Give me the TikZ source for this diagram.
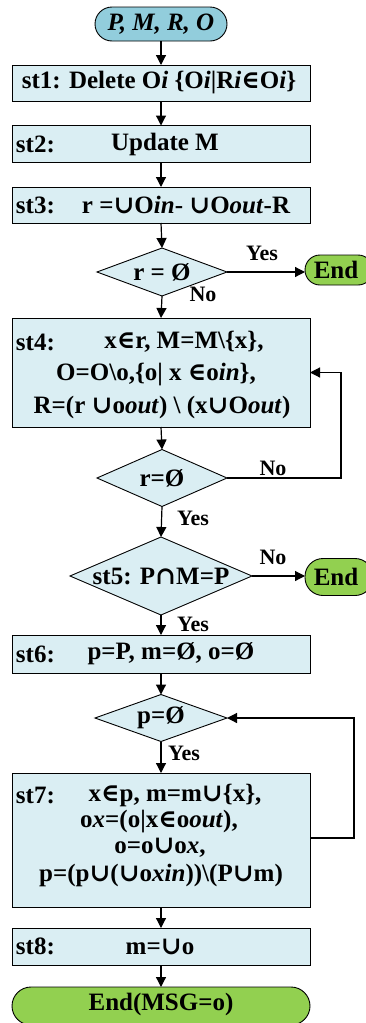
\documentclass[tikz,border=0pt]{standalone}
\usepackage{fontspec}
\setmainfont{Liberation Serif}
\newfontfamily\symf{DejaVu Serif}
\usetikzlibrary{shapes.geometric,arrows.meta}
\definecolor{boxblue}{HTML}{DAEEF3}
\definecolor{startblue}{HTML}{92CDDC}
\definecolor{endgreen}{HTML}{92D050}
\newcommand\myin{{\symf\bfseries ∈}}
\newcommand\mycup{{\symf\bfseries ∪}}
\newcommand\mycap{{\symf\bfseries ∩}}
\begin{document}
\begin{tikzpicture}[x=1pt,y=-1pt,
  every node/.style={inner sep=0pt, outer sep=0pt},
  txt/.style={font=\fontsize{25}{30}\selectfont\bfseries},
  lab/.style={font=\fontsize{22}{26}\selectfont\bfseries},
  stlab/.style={font=\fontsize{25}{30}\selectfont\bfseries, anchor=west},
  proc/.style={draw, fill=boxblue, line width=0.9pt, minimum width=298pt},
  dec/.style={diamond, draw, fill=boxblue, line width=0.9pt},
  term/.style={draw, fill=endgreen, line width=0.9pt},
  arr/.style={line width=1.2pt, -{Triangle[length=10pt,width=10pt]}}
]
\useasboundingbox (0,0) rectangle (366,1023);
\clip (0,0) rectangle (366,1023);

% start
\node[draw, fill=startblue, line width=0.9pt, rounded corners=17pt, minimum width=132pt, minimum height=34pt] (start) at (161,24) {};
\node[txt] (startt) at (161,24) {\itshape P, M, R, O};

% st1
\node[proc, minimum height=36pt] (st1) at (161,83) {};
\node[txt] (st1t) at (159,83) {st1: Delete O\textit{i} \{O\textit{i}|R\textit{i}\myin O\textit{i}\}};

% st2
\node[proc, minimum height=37pt] (st2) at (161,144) {};
\node[stlab] (st2l) at (16,144) {st2:};
\node[txt] (st2t) at (165,144) {Update M};

% st3
\node[proc, minimum height=36pt] (st3) at (161,205) {};
\node[stlab] (st3l) at (16,205) {st3:};
\node[txt] (st3t) at (186,205) {r =\mycup O\textit{in}- \mycup O\textit{out}-R};

% d1
\node[dec, minimum width=130pt, minimum height=48pt] (d1) at (162,272) {};
\node[txt] (d1t) at (162,272) {r = Ø};
\node[term, rounded corners=15pt, minimum width=68pt, minimum height=30pt] (end1) at (339,270) {};
\node[txt] (end1t) at (336,270) {End};
\node[lab] (yes1) at (262,253) {Yes};
\node[lab] (no1) at (203,294) {No};

% st4
\node[proc, minimum height=109pt] (st4) at (161,372.5) {};
\node[stlab] (st4l) at (16,342) {st4:};
\node[txt] (st4a) at (184,342) {x\myin r, M=M\textbackslash\{x\},};
\node[txt] (st4b) at (156,375) {O=O\textbackslash o,\{o| x \myin o\textit{in}\},};
\node[txt] (st4c) at (162,407) {R=(r \mycup o\textit{out}) \textbackslash{} (x\mycup O\textit{out})};

% d2
\node[dec, minimum width=130pt, minimum height=57pt] (d2) at (162,478) {};
\node[txt] (d2t) at (162,478) {r=Ø};
\node[lab] (no2) at (273,468) {No};
\node[lab] (yes2) at (193,518) {Yes};

% d3
\node[dec, minimum width=182pt, minimum height=78pt] (d3) at (161,576) {};
\node[txt] (d3t) at (161,576) {st5: P\mycap M=P};
\node[term, rounded corners=18pt, minimum width=68pt, minimum height=37pt] (end2) at (339,577) {};
\node[txt] (end2t) at (336,577) {End};
\node[lab] (no3) at (273,557) {No};
\node[lab] (yes3) at (193,624) {Yes};

% st6
\node[proc, minimum height=38pt] (st6) at (161,654) {};
\node[stlab] (st6l) at (16,654) {st6:};
\node[txt] (st6t) at (171,654) {p=P, m=Ø, o=Ø};

% d4
\node[dec, minimum width=132pt, minimum height=47pt] (d4) at (161,718) {};
\node[txt] (d4t) at (161,718) {p=Ø};
\node[lab] (yes4) at (184,753) {Yes};

% st7
\node[proc, minimum height=134pt] (st7) at (161,840) {};
\node[stlab] (st7l) at (16,795) {st7:};
\node[txt] (st7a) at (175,795) {x\myin p, m=m\mycup\{x\},};
\node[txt] (st7b) at (159,822) {o\textit{x}=(o|x\myin o\textit{out}),};
\node[txt] (st7c) at (160,848) {o=o\mycup o\textit{x},};
\node[txt] (st7d) at (161,875) {p=(p\mycup(\mycup o\textit{xin}))\textbackslash(P\mycup m)};

% st8
\node[proc, minimum height=37pt] (st8) at (161,946.5) {};
\node[stlab] (st8l) at (16,946.5) {st8:};
\node[txt] (st8t) at (160,946.5) {m=\mycup o};

% final end
\node[term, rounded corners=19pt, minimum width=298pt, minimum height=38pt] (endf) at (161,1006) {};
\node[txt] (endft) at (161,1004) {End(MSG=o)};

% arrows
\draw[arr] (start) -- (st1);
\draw[arr] (st1) -- (st2);
\draw[arr] (st2) -- (st3);
\draw[arr] (st3.south) -- (d1.north);
\draw[arr] (d1.east) -- (d1.east -| end1.west);
\draw[arr] (d1.south) -- (st4.north);
\draw[arr] (st4.south) -- (d2.north);
\draw[arr] (d2.south) -- (d3.north);
\draw[arr] (d3.east) -- (d3.east -| end2.west);
\draw[arr] (d3.south) -- (st6.north);
\draw[arr] (st6.south) -- (d4.north);
\draw[arr] (d4.south) -- (st7.north);
\draw[arr] (st7.south) -- (st8.north);
\draw[arr] (st8.south) -- (endf.north);
\coordinate (l1) at (341,478);
\draw[arr] (d2.east) -- (l1) |- (st4.east);
\coordinate (l2) at (354,838);
\draw[arr] (st7.east |- l2) -- (l2) |- (d4.east);
\end{tikzpicture}
\end{document}
